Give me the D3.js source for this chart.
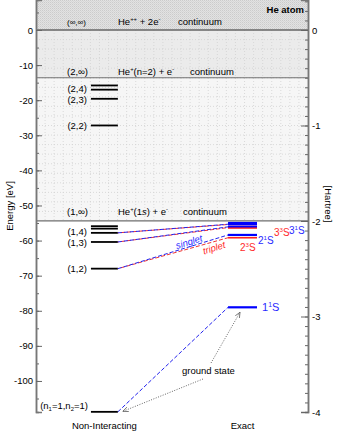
<!DOCTYPE html>
<html>
<head>
<meta charset="utf-8">
<script src="https://cdn.jsdelivr.net/npm/d3@7"></script>
<style>
  body { margin: 0; background: #fff; }
  svg { font-family: "Liberation Sans", Arial, sans-serif; }
</style>
</head>
<body>
<div id="chart"></div>
<script>
// ---------------------------------------------------
// data (energies in eV unless noted)
// ---------------------------------------------------
const HARTREE = 27.2114;

// non-interacting levels (n1,n2)
const nonIntLabels = ["(n1=1,n2=1)", "(1,2)", "(1,3)", "(1,4)", "", "", "(2,2)", "(2,3)", "(2,4)", ""];
const nonIntEnergy = [-108.8, -68.0, -60.4, -57.8, -56.6, -55.9, -27.2, -19.6, -17.0, -15.8];

// exact levels (Hartree)
const singletNames = ["1", "2", "3", "4", "5"];
const singletHartree = [-2.9037, -2.1460, -2.0613, -2.0336, -2.0212];
const tripletNames = ["2", "3", "4", "5"];
const tripletHartree = [-2.1752, -2.0687, -2.0365, -2.0226];

// continuum thresholds
const contLabels = ["(\u221e,\u221e)", "(2,\u221e)", "(1,\u221e)"];
const contEnergy = [0, -13.6, -54.4];

// connections: non-interacting index -> exact level
const singletLinks = [[0, 0], [1, 1], [2, 2], [3, 3]];
const tripletLinks = [[1, 0], [2, 1], [3, 2]];

// axis ticks
const eVTicks = [0, -10, -20, -30, -40, -50, -60, -70, -80, -90, -100];
const hartreeTicks = [0, -1, -2, -3, -4];

// ---------------------------------------------------
const W = 337, H = 436;
const svg = d3.select('#chart').append('svg')
  .attr('width', W).attr('height', H);

const x = d3.scaleLinear().domain([0, 1]).range([36, 308]);
const y = d3.scaleLinear().domain([-4 * HARTREE, 8.55]).range([412, 0]);
const yH = d3.scaleLinear().domain([-4, 8.55 / HARTREE]).range([412, 0]);

const fs = 9.5;

// background regions
const defs = svg.append('defs');
const pat = defs.append('pattern').attr('id', 'stip')
  .attr('width', 2).attr('height', 2).attr('patternUnits', 'userSpaceOnUse');
pat.append('rect').attr('width', 2).attr('height', 2).attr('fill', '#e2e2e2');
pat.append('rect').attr('width', 1).attr('height', 1).attr('fill', '#cbcbcb');
pat.append('rect').attr('x', 1).attr('y', 1).attr('width', 1).attr('height', 1).attr('fill', '#d6d6d6');

svg.append('rect').attr('x', x(0)).attr('y', y(8.55))
  .attr('width', x(1) - x(0)).attr('height', y(0) - y(8.55))
  .attr('fill', 'url(#stip)');
svg.append('rect').attr('x', x(0)).attr('y', y(0))
  .attr('width', x(1) - x(0)).attr('height', y(-13.6) - y(0))
  .attr('fill', '#ebebeb');
svg.append('rect').attr('x', x(0)).attr('y', y(-13.6))
  .attr('width', x(1) - x(0)).attr('height', y(-54.4) - y(-13.6))
  .attr('fill', '#f6f6f6');

// dotted grid in the continuum area
const grid = svg.append('g').attr('stroke', '#d2d2d2')
  .attr('stroke-width', 0.8).attr('stroke-dasharray', '1,2');
grid.selectAll('line.v').data(d3.range(1, 30).map(i => i / 30))
  .enter().append('line')
  .attr('x1', d => x(d)).attr('x2', d => x(d))
  .attr('y1', y(0)).attr('y2', y(-54.4));
grid.selectAll('line.h').data(d3.range(-19, 0).map(i => i / 10).filter(h => h * HARTREE > -54.4))
  .enter().append('line')
  .attr('x1', x(0)).attr('x2', x(1))
  .attr('y1', d => yH(d)).attr('y2', d => yH(d));

// threshold lines
svg.append('g').selectAll('line').data(contEnergy).enter().append('line')
  .attr('x1', x(0)).attr('x2', x(1))
  .attr('y1', d => y(d)).attr('y2', d => y(d))
  .attr('stroke', (d, i) => i === 0 ? '#666' : '#6f6f6f')
  .attr('stroke-width', (d, i) => i === 0 ? 1.6 : 1.2);

// axes
const axL = d3.axisRight(y).tickValues(d3.range(5, -110, -5)).tickSize(3).tickFormat('');
svg.append('g').attr('transform', `translate(${x(0)},0)`).call(axL);
const axLmaj = d3.axisRight(y).tickValues(eVTicks).tickSize(6).tickFormat('');
svg.append('g').attr('transform', `translate(${x(0)},0)`).call(axLmaj);
const axR = d3.axisLeft(yH).tickValues(d3.range(3, -41, -1).map(i => i / 10)).tickSize(3).tickFormat('');
svg.append('g').attr('transform', `translate(${x(1)},0)`).call(axR);
const axRmaj = d3.axisLeft(yH).tickValues(hartreeTicks).tickSize(7).tickFormat('');
svg.append('g').attr('transform', `translate(${x(1)},0)`).call(axRmaj);
svg.selectAll('.domain').attr('stroke', '#777').attr('stroke-width', 1.5);
svg.selectAll('.tick line').attr('stroke', '#666');

svg.append('g').selectAll('text').data(eVTicks).enter().append('text')
  .attr('x', x(0) - 3).attr('y', d => y(d) + 3.5)
  .attr('text-anchor', 'end').attr('font-size', fs).text(d => d);
svg.append('g').selectAll('text').data(hartreeTicks).enter().append('text')
  .attr('x', x(1) + 4).attr('y', d => yH(d) + 3.5)
  .attr('font-size', fs).text(d => d);

svg.append('text').attr('transform', `translate(13,206) rotate(-90)`)
  .attr('text-anchor', 'middle').attr('font-size', fs).text('Energy [eV]');
svg.append('text').attr('transform', `translate(325,204) rotate(90)`)
  .attr('text-anchor', 'middle').attr('font-size', fs).text('[Hartree]');

// continuum labels
svg.append('text').attr('x', 67).attr('y', 25).attr('font-size', 8).text(contLabels[0]);
svg.append('text').attr('x', 67).attr('y', 75).attr('font-size', fs).text(contLabels[1]);
svg.append('text').attr('x', 67).attr('y', 215).attr('font-size', fs).text(contLabels[2]);

function supText(g, xp, yp, parts, opts = {}) {
  const size = opts.size || fs;
  const t = g.append('text').attr('x', xp).attr('y', yp)
    .attr('font-size', size).attr('fill', opts.fill || '#000');
  if (opts.anchor) t.attr('text-anchor', opts.anchor);
  parts.forEach(p => {
    const s = t.append('tspan').text(p.t);
    if (p.sup) s.attr('font-size', size * 0.62).attr('dy', -size * 0.42);
    if (p.sub) s.attr('font-size', size * 0.62).attr('dy', 2);
    if (p.back) s.attr('dy', p.back);
    if (p.it) s.attr('font-style', 'italic');
  });
  return t;
}

supText(svg, 118, 25, [{t: 'He'}, {t: '++', sup: true}, {t: ' + 2e', back: 4}, {t: '-', sup: true}]);
svg.append('text').attr('x', 178).attr('y', 25).attr('font-size', fs).text('continuum');
supText(svg, 118, 75, [{t: 'He'}, {t: '+', sup: true}, {t: '(n=2) + e', back: 4}, {t: '-', sup: true}]);
svg.append('text').attr('x', 190).attr('y', 75).attr('font-size', fs).text('continuum');
supText(svg, 118, 215, [{t: 'He'}, {t: '+', sup: true}, {t: '(1', back: 4}, {t: 's', it: true}, {t: ') + e'}, {t: '-', sup: true}]);
svg.append('text').attr('x', 183).attr('y', 215).attr('font-size', fs).text('continuum');
svg.append('text').attr('x', 304).attr('y', 13).attr('font-size', fs)
  .attr('font-weight', 'bold').attr('text-anchor', 'end').text('He atom');

// non-interacting levels
const niX0 = x(0.202), niX1 = x(0.301);
svg.append('g').selectAll('line').data(nonIntEnergy).enter().append('line')
  .attr('x1', niX0).attr('x2', niX1)
  .attr('y1', d => y(d)).attr('y2', d => y(d))
  .attr('stroke', '#000').attr('stroke-width', 1.8);
const labelShift = {'(2,4)': 2, '(2,3)': 4, '(1,4)': 2, '(1,3)': 4.5};
nonIntLabels.forEach((l, i) => {
  if (!l || i === 0) return;
  const dy = labelShift[l] !== undefined ? labelShift[l] : 3.5;
  svg.append('text').attr('x', niX0 - 4).attr('y', y(nonIntEnergy[i]) + dy)
    .attr('text-anchor', 'end').attr('font-size', fs).text(l);
});
supText(svg, niX0 - 3, y(nonIntEnergy[0]) - 3, [
  {t: '(n'}, {t: '1', sub: true}, {t: '=1,n', back: -2}, {t: '2', sub: true}, {t: '=1)', back: -2}
], {anchor: 'end'});

// exact levels
const exX0 = x(0.706), exX1 = x(0.8125);
const singletE = singletHartree.map(h => h * HARTREE);
const tripletE = tripletHartree.map(h => h * HARTREE);

// connecting dashed lines
const conn = svg.append('g').attr('fill', 'none').attr('stroke-width', 1)
  .attr('stroke-dasharray', '4,2');
conn.selectAll('line.t').data(tripletLinks).enter().append('line')
  .attr('x1', niX1).attr('y1', d => y(nonIntEnergy[d[0]]))
  .attr('x2', exX0).attr('y2', d => y(tripletE[d[1]]))
  .attr('stroke', '#ee3333').attr('stroke-dashoffset', 3);
conn.selectAll('line.s').data(singletLinks).enter().append('line')
  .attr('x1', niX1).attr('y1', d => y(nonIntEnergy[d[0]]))
  .attr('x2', exX0).attr('y2', d => y(singletE[d[1]]))
  .attr('stroke', '#2222ee');

svg.append('g').selectAll('line').data(tripletE).enter().append('line')
  .attr('x1', exX0).attr('x2', exX1)
  .attr('y1', d => y(d)).attr('y2', d => y(d))
  .attr('stroke', '#ff2020').attr('stroke-width', 1.6);
svg.append('g').selectAll('line').data(singletE).enter().append('line')
  .attr('x1', exX0).attr('x2', exX1)
  .attr('y1', d => y(d)).attr('y2', d => y(d))
  .attr('stroke', '#0000ff').attr('stroke-width', 2.2);
svg.append('line').attr('x1', exX0).attr('x2', exX1)
  .attr('y1', y(tripletE[1]) + 0.5).attr('y2', y(tripletE[1]) + 0.5)
  .attr('stroke', '#ff2020').attr('stroke-width', 1.2);

// state labels
const blue = '#2a2aff', red = '#ff2a2a';
const big = 10;
supText(svg, 262, y(singletE[0]) + 4, [{t: singletNames[0]}, {t: '1', sup: true}, {t: 'S', back: 4}], {fill: blue, size: big + 1});
supText(svg, 258, 244, [{t: singletNames[1]}, {t: '1', sup: true}, {t: 'S', back: 4}], {fill: blue, size: big});
supText(svg, 289, 234, [{t: singletNames[2]}, {t: '1', sup: true}, {t: 'S', back: 4}], {fill: blue, size: big});
supText(svg, 240, 251, [{t: tripletNames[0]}, {t: '3', sup: true}, {t: 'S', back: 4}], {fill: red, size: big});
supText(svg, 274, 236, [{t: tripletNames[1]}, {t: '3', sup: true}, {t: 'S', back: 4}], {fill: red, size: big});

svg.append('text').attr('transform', 'translate(190,245) rotate(-17)')
  .attr('text-anchor', 'middle').attr('font-size', fs).attr('font-style', 'italic')
  .attr('fill', blue).text('singlet');
svg.append('text').attr('transform', 'translate(215,251) rotate(-17)')
  .attr('text-anchor', 'middle').attr('font-size', fs).attr('font-style', 'italic')
  .attr('fill', red).text('triplet');

// ground state annotation
defs.append('marker').attr('id', 'arr').attr('viewBox', '0 0 10 10')
  .attr('refX', 9).attr('refY', 5).attr('markerWidth', 6).attr('markerHeight', 6)
  .attr('orient', 'auto')
  .append('path').attr('d', 'M0,1 L9,5 L0,9').attr('fill', 'none')
  .attr('stroke', '#555').attr('stroke-width', 1.2);
svg.append('text').attr('x', 182).attr('y', 374).attr('font-size', fs).text('ground state');
svg.append('line').attr('x1', 203).attr('y1', 379).attr('x2', niX1 + 5).attr('y2', y(nonIntEnergy[0]) - 0.5)
  .attr('stroke', '#666').attr('stroke-dasharray', '1,1.5').attr('marker-end', 'url(#arr)');
svg.append('line').attr('x1', 211).attr('y1', 363).attr('x2', 240).attr('y2', y(singletE[0]) + 5)
  .attr('stroke', '#666').attr('stroke-dasharray', '1,1.5').attr('marker-end', 'url(#arr)');

// bottom labels
svg.append('text').attr('x', (niX0 + niX1) / 2).attr('y', 429).attr('text-anchor', 'middle')
  .attr('font-size', fs).text('Non-Interacting');
svg.append('text').attr('x', (exX0 + exX1) / 2).attr('y', 429).attr('text-anchor', 'middle')
  .attr('font-size', fs).text('Exact');
</script>
</body>
</html>
